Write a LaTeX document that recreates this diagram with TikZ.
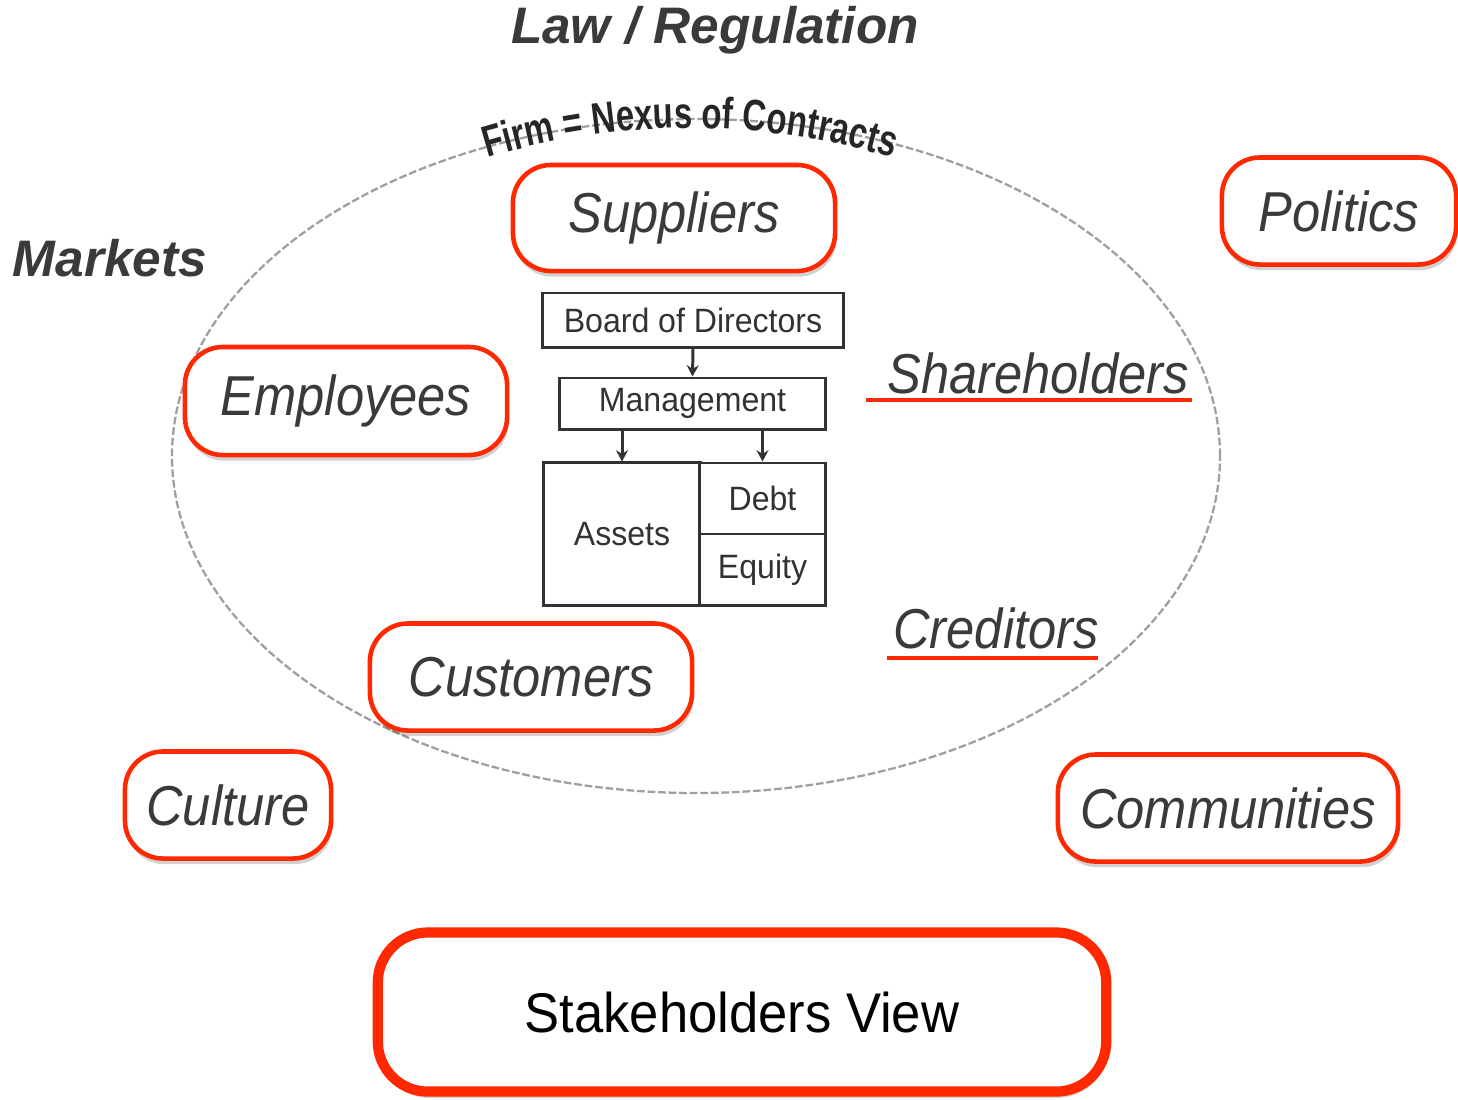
\documentclass[tikz,border=0pt]{standalone}
\usepackage{fontspec}
\setmainfont{Liberation Sans}
\newfontfamily\boxfont[FakeStretch=0.9]{Liberation Sans}
\newfontfamily\svfont[FakeStretch=0.94]{Liberation Sans}
\newfontfamily\arcfont[FakeStretch=0.75]{Liberation Sans}
\newfontfamily\smallfont[FakeStretch=0.95]{Liberation Sans}
\usetikzlibrary{shadows,decorations.text,arrows.meta}
\definecolor{boxred}{RGB}{255,40,0}
\definecolor{txtgray}{RGB}{58,58,58}
\definecolor{ingray}{RGB}{50,50,50}
\tikzset{
  redbox/.style={draw=boxred, line width=1.3pt, rounded corners=0.38cm, fill=white,
    drop shadow={shadow xshift=0.4pt, shadow yshift=-1.6pt, opacity=0.18, fill=black},
    font=\boxfont\itshape\fontsize{16}{19}\selectfont, text=txtgray, inner sep=0pt},
  svbox/.style={draw=boxred, line width=2.9pt, rounded corners=0.5cm, fill=white,
    drop shadow={shadow xshift=0.4pt, shadow yshift=-1.8pt, opacity=0.18, fill=black},
    font=\svfont\fontsize{15.9}{19}\selectfont, text=black, inner sep=0pt},
  bigtitle/.style={font=\bfseries\itshape\fontsize{14.6}{17}\selectfont, text=txtgray},
  underlined/.style={font=\boxfont\itshape\fontsize{16}{19}\selectfont, text=txtgray},
  redline/.style={draw=boxred, line width=1.2pt},
  inbox/.style={draw=ingray, line width=0.85pt, inner sep=0pt, fill=white,
    font=\smallfont\fontsize{9.6}{11}\selectfont, text=ingray},
  arr/.style={draw=ingray, line width=0.85pt, -{Stealth[length=3.2pt,width=3.4pt]}},
  firm/.style={draw=gray!75, line width=0.65pt, dash pattern=on 2.2pt off 0.8pt}
}
\begin{document}
\begin{tikzpicture}[x=0.01cm,y=0.01cm]
\useasboundingbox (0,0) rectangle (1458,-1099);

% firm ellipse
\path[firm] (696,-456) ellipse [x radius=524, y radius=337];
\path[decorate, decoration={text along path, text align=center,
  text={|\arcfont\bfseries\fontsize{12.5}{14}\selectfont\color{black!85}|Firm = Nexus of Contracts}}]
  (690,-828) ++(110:700) arc[start angle=110, end angle=70, radius=700];

% titles
\node[bigtitle] (law) at (715,-30) {Law / Regulation};
\node[bigtitle] (markets) at (110,-258) {Markets};

% stakeholder boxes
\node[redbox, minimum width=3.22cm, minimum height=1.06cm] (sup) at (674,-218) {Suppliers};
\node[redbox, minimum width=2.34cm, minimum height=1.07cm] (pol) at (1339,-211) {Politics\hspace{0.18cm}};
\node[redbox, minimum width=3.22cm, minimum height=1.08cm] (emp) at (346,-401) {Employees};
\node[redbox, minimum width=3.22cm, minimum height=1.07cm] (cus) at (531,-677) {Customers};
\node[redbox, minimum width=2.06cm, minimum height=1.07cm] (cul) at (228,-805) {Culture};
\node[redbox, minimum width=3.40cm, minimum height=1.07cm] (com) at (1228,-808) {Communities\hspace{0.2cm}};
\node[svbox, minimum width=7.28cm, minimum height=1.59cm] (sv) at (742,-1012) {Stakeholders View};

% underlined labels
\node[underlined] (sh) at (1038,-373) {Shareholders};
\coordinate (shL) at (866,-400);
\coordinate (shR) at (1192,-400);
\draw[redline] (shL) -- (shR);
\node[underlined] (cr) at (996,-628) {Creditors};
\coordinate (crL) at (887,-658);
\coordinate (crR) at (1098,-658);
\draw[redline] (crL) -- (crR);

% inner firm diagram
\node[inbox, minimum width=3.00cm, minimum height=0.54cm] (bod) at (693,-320) {Board of Directors};
\node[inbox, minimum width=2.65cm, minimum height=0.51cm] (mgmt) at (692.5,-403.5) {Management};
\node[inbox, minimum width=1.56cm, minimum height=1.42cm] (assets) at (622,-534) {Assets};
\node[inbox, minimum width=1.25cm, minimum height=0.71cm] (debt) at (762.5,-498.5) {Debt};
\node[inbox, minimum width=1.25cm, minimum height=0.71cm] (equity) at (762.5,-569.5) {Equity};

\draw[arr] (bod.south) -- (mgmt.north);
\draw[arr] (mgmt.south -| assets.north) -- (assets.north);
\draw[arr] (mgmt.south -| debt.north) -- (debt.north);
\end{tikzpicture}
\end{document}
